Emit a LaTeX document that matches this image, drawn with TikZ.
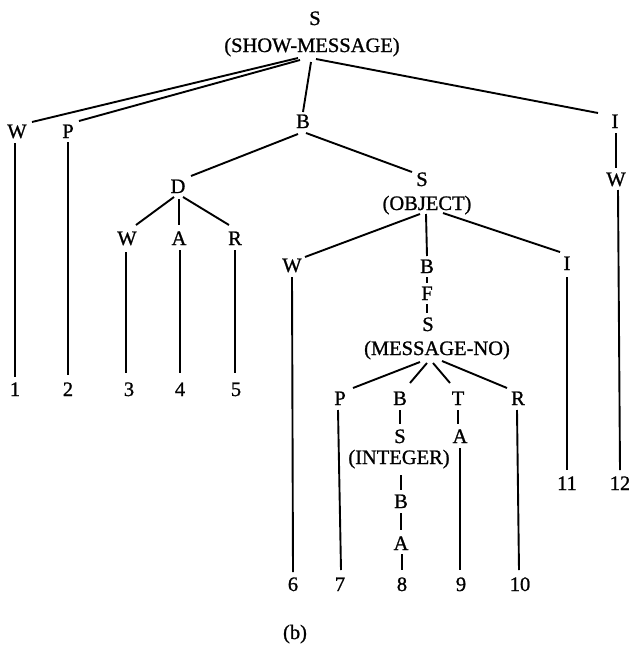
\documentclass[tikz,border=0pt]{standalone}
\usepackage{fontspec}
\newfontfamily\treefont[FakeBold=1.0]{Liberation Serif}
\begin{document}
\begin{tikzpicture}[x=1pt, y=-1pt,
  lab/.style={anchor=base, inner sep=0pt, font=\treefont\fontsize{20.5}{24}\selectfont},
  link/.style={line width=1.9pt}]
\useasboundingbox (0,0) rectangle (629,648);

% ---- labels (positions given at the text baseline) ----
\node[lab] (s0)  at (315,25)  {S};
\node[lab] (s0p) at (312,52)  {(SHOW-MESSAGE)};
\node[lab] (w1)  at (17,138)  {W};
\node[lab] (p1)  at (68,138)  {P};
\node[lab] (b1)  at (303,128) {B};
\node[lab] (i1)  at (615,128) {I};
\node[lab] (w4)  at (616,186) {W};
\node[lab] (d)   at (178,193) {D};
\node[lab] (s1)  at (422,186) {S};
\node[lab] (s1p) at (427,210) {(OBJECT)};
\node[lab] (wd)  at (127,245) {W};
\node[lab] (ad)  at (179,245) {A};
\node[lab] (rd)  at (235,245) {R};
\node[lab] (w2)  at (292,272) {W};
\node[lab] (b2)  at (427,273) {B};
\node[lab] (i2)  at (567,270) {I};
\node[lab] (f)   at (427,300) {F};
\node[lab] (s2)  at (428,331) {S};
\node[lab] (s2p) at (437,355) {(MESSAGE-NO)};
\node[lab] (p2)  at (340,405) {P};
\node[lab] (b3)  at (400,405) {B};
\node[lab] (t)   at (458,405) {T};
\node[lab] (r2)  at (518,405) {R};
\node[lab] (s3)  at (400,443) {S};
\node[lab] (s3p) at (399,464) {(INTEGER)};
\node[lab] (a3)  at (460,443) {A};
\node[lab] (b4)  at (401,508) {B};
\node[lab] (a4)  at (401,550) {A};

\node[lab] (n1)  at (15,396)  {1};
\node[lab] (n2)  at (68,396)  {2};
\node[lab] (n3)  at (129,396) {3};
\node[lab] (n4)  at (180,396) {4};
\node[lab] (n5)  at (236,396) {5};
\node[lab] (n6)  at (293,591) {6};
\node[lab] (n7)  at (340,591) {7};
\node[lab] (n8)  at (402,591) {8};
\node[lab] (n9)  at (461,591) {9};
\node[lab] (n10) at (520,591) {10};
\node[lab] (n11) at (567,490) {11};
\node[lab] (n12) at (620,490) {12};

\node[lab] (cap) at (295,639) {(b)};

% ---- tree branches ----
\draw[link] ([shift={(-14,6)}]s0p.base) -- ([shift={(15,-16)}]w1.base);
\draw[link] ([shift={(-12,8)}]s0p.base) -- ([shift={(11,-17)}]p1.base);
\draw[link] ([shift={(-1,10)}]s0p.base) -- ([shift={(0,-16)}]b1.base);
\draw[link] ([shift={(4,7)}]s0p.base)   -- ([shift={(-17,-15)}]i1.base);

\draw[link] ([shift={(-2,5)}]w1.base) -- ([shift={(0,-19)}]n1.base);
\draw[link] ([shift={(0,4)}]p1.base)  -- ([shift={(0,-21)}]n2.base);

\draw[link] ([shift={(-5,6)}]b1.base) -- ([shift={(13,-17)}]d.base);
\draw[link] ([shift={(3,5)}]b1.base)  -- ([shift={(-10,-14)}]s1.base);

\draw[link] ([shift={(1,5)}]i1.base) -- ([shift={(0,-18)}]w4.base);
\draw[link] ([shift={(2,4)}]w4.base) -- ([shift={(0,-20)}]n12.base);

\draw[link] ([shift={(-4,4)}]d.base) -- ([shift={(9,-20)}]wd.base);
\draw[link] ([shift={(1,6)}]d.base)  -- ([shift={(0,-20)}]ad.base);
\draw[link] ([shift={(5,4)}]d.base)  -- ([shift={(-6,-20)}]rd.base);

\draw[link] ([shift={(-1,7)}]wd.base) -- ([shift={(-3,-23)}]n3.base);
\draw[link] ([shift={(1,5)}]ad.base)  -- ([shift={(0,-23)}]n4.base);
\draw[link] ([shift={(0,5)}]rd.base)  -- ([shift={(-1,-23)}]n5.base);

\draw[link] ([shift={(-7,4)}]s1p.base) -- ([shift={(13,-15)}]w2.base);
\draw[link] ([shift={(-1,4)}]s1p.base) -- ([shift={(0,-17)}]b2.base);
\draw[link] ([shift={(16,3)}]s1p.base) -- ([shift={(-7,-18)}]i2.base);

\draw[link] ([shift={(0,5)}]w2.base) -- ([shift={(0,-19)}]n6.base);
\draw[link] ([shift={(0,4)}]b2.base) -- ([shift={(0,-17)}]f.base);
\draw[link] ([shift={(0,4)}]f.base)  -- ([shift={(-1,-18)}]s2.base);
\draw[link] ([shift={(0,7)}]i2.base) -- ([shift={(0,-20)}]n11.base);

\draw[link] ([shift={(-17,7)}]s2p.base) -- ([shift={(13,-17)}]p2.base);
\draw[link] ([shift={(-10,8)}]s2p.base) -- ([shift={(10,-22)}]b3.base);
\draw[link] ([shift={(-4,8)}]s2p.base)  -- ([shift={(-8,-22)}]t.base);
\draw[link] ([shift={(5,6)}]s2p.base)   -- ([shift={(-11,-17)}]r2.base);

\draw[link] ([shift={(-2,5)}]p2.base) -- ([shift={(1,-21)}]n7.base);
\draw[link] ([shift={(0,5)}]b3.base)  -- ([shift={(0,-19)}]s3.base);
\draw[link] ([shift={(0,5)}]t.base)   -- ([shift={(-2,-19)}]a3.base);
\draw[link] ([shift={(0,5)}]a3.base)  -- ([shift={(-1,-21)}]n9.base);
\draw[link] ([shift={(-1,5)}]r2.base) -- ([shift={(-1,-21)}]n10.base);

\draw[link] ([shift={(2,11)}]s3p.base) -- ([shift={(0,-18)}]b4.base);
\draw[link] ([shift={(0,5)}]b4.base)   -- ([shift={(0,-20)}]a4.base);
\draw[link] ([shift={(1,4)}]a4.base)   -- ([shift={(0,-21)}]n8.base);
\end{tikzpicture}
\end{document}
